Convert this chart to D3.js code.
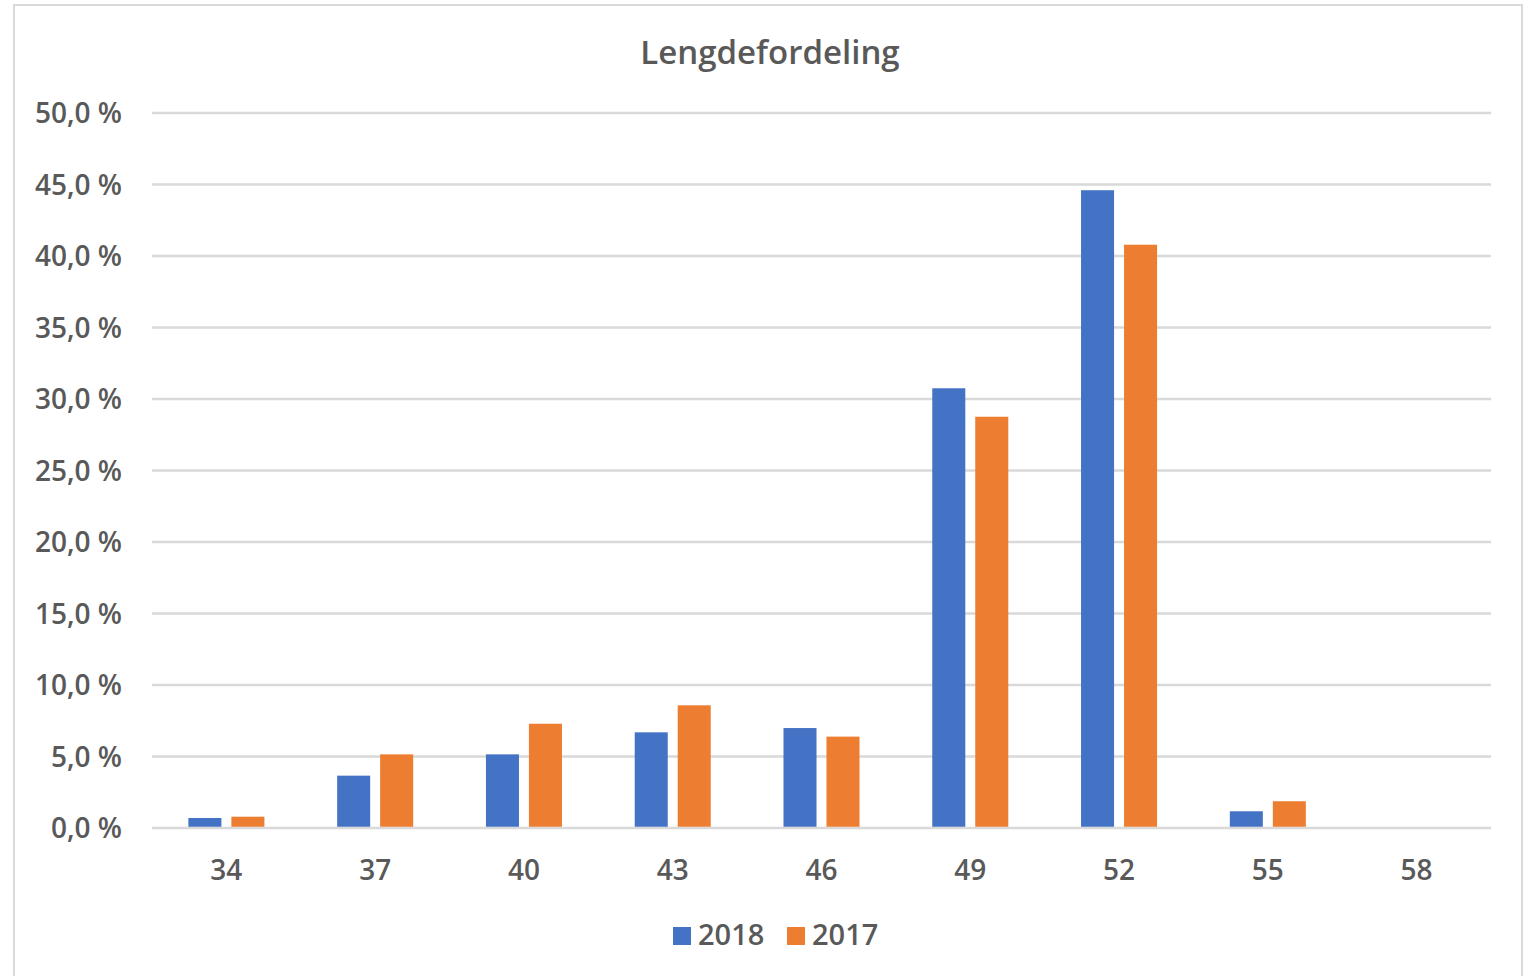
<!DOCTYPE html>
<html>
<head>
<meta charset="utf-8">
<script src="https://cdn.jsdelivr.net/npm/d3@7"></script>
<style>
  html, body { margin: 0; padding: 0; background: #fff; }
  svg { display: block; }
  text { font-family: "Open Sans", "Lato", sans-serif; fill: #595959; }
</style>
</head>
<body>
<svg id="chart" width="1524" height="976"></svg>
<script>
const categories = ["34", "37", "40", "43", "46", "49", "52", "55", "58"];
const values2018 = [0.70, 3.66, 5.15, 6.69, 6.99, 30.75, 44.6, 1.17, 0];
const values2017 = [0.79, 5.15, 7.29, 8.58, 6.39, 28.76, 40.79, 1.87, 0];
const seriesNames = ["2018", "2017"];
const yTicks = [0, 5, 10, 15, 20, 25, 30, 35, 40, 45, 50];
const title = "Lengdefordeling";

const colors = {"2018": "#4472C4", "2017": "#ED7D31"};
const svg = d3.select("#chart");

// outer chart border
svg.append("rect").attr("x", 14).attr("y", 5).attr("width", 1508).attr("height", 990)
  .attr("fill", "#fff").attr("stroke", "#D9D9D9").attr("stroke-width", 2);

const plot = {left: 152, right: 1491, top: 113, bottom: 828};

const x = d3.scaleBand().domain(categories).range([plot.left, plot.right]).padding(0);
const y = d3.scaleLinear().domain([0, 50]).range([plot.bottom, plot.top]);

// gridlines
svg.append("g").selectAll("line").data(yTicks).join("line")
  .attr("x1", plot.left).attr("x2", plot.right)
  .attr("y1", d => y(d)).attr("y2", d => y(d))
  .attr("stroke", "#D9D9D9").attr("stroke-width", 2.5);

// y labels
const fmt = d => d.toFixed(1).replace(".", ",") + " %";
svg.append("g").selectAll("text").data(yTicks).join("text")
  .attr("x", 122).attr("y", d => y(d)).attr("dy", "0.36em")
  .attr("text-anchor", "end").attr("font-size", 28).attr("font-weight", 600)
  .text(fmt);

// bars
const bw = x.bandwidth();
const barW = bw * 0.222;
const gap = bw * 0.067;
const series = [values2018, values2017];
series.forEach((vals, si) => {
  svg.append("g").selectAll("rect").data(vals).join("rect")
    .attr("x", (d, i) => {
      const c = x(categories[i]) + bw / 2;
      return si === 0 ? c - gap / 2 - barW : c + gap / 2;
    })
    .attr("y", d => y(d))
    .attr("width", barW)
    .attr("height", d => plot.bottom - y(d) - 1.25)
    .attr("fill", colors[seriesNames[si]]);
});

// x labels
svg.append("g").selectAll("text").data(categories).join("text")
  .attr("x", d => x(d) + bw / 2).attr("y", 880)
  .attr("text-anchor", "middle").attr("font-size", 28).attr("font-weight", 600)
  .text(d => d);

// title
svg.append("text").attr("x", 770).attr("y", 64).attr("text-anchor", "middle")
  .attr("font-size", 33).attr("font-weight", 600).text(title);

// legend
const legendItems = [{name: "2018", x: 673}, {name: "2017", x: 787}];
const lg = svg.append("g");
legendItems.forEach(it => {
  lg.append("rect").attr("x", it.x).attr("y", 927).attr("width", 18).attr("height", 18)
    .attr("fill", colors[it.name]);
  lg.append("text").attr("x", it.x + 25).attr("y", 945).attr("font-size", 29)
    .attr("font-weight", 600).text(it.name);
});
</script>
</body>
</html>
